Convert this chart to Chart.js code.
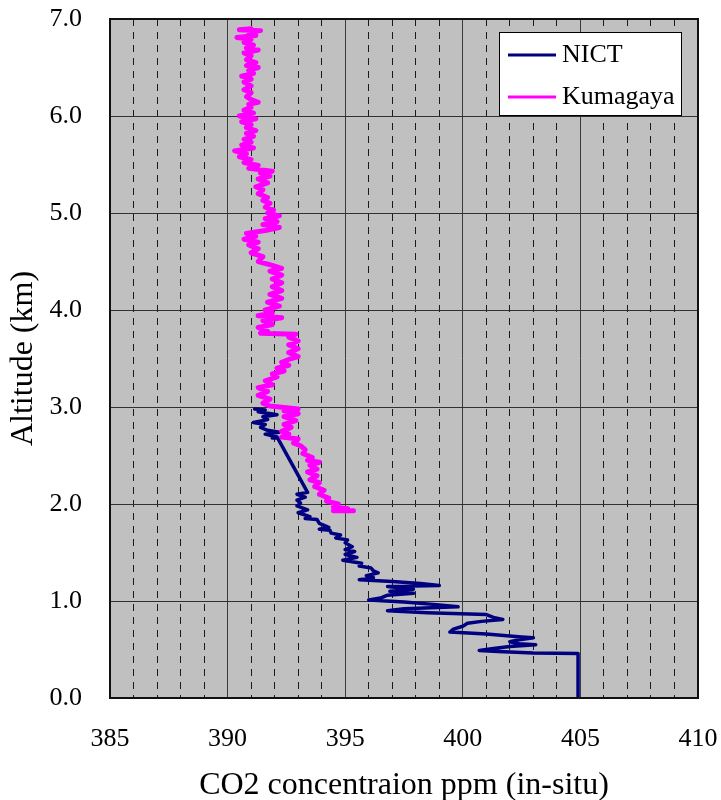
<!DOCTYPE html>
<html><head><meta charset="utf-8">
<script src="https://cdn.jsdelivr.net/npm/chart.js@4"></script>
<style>html,body{margin:0;padding:0;background:#fff;}#wrap{width:721px;height:800px;}</style>
</head><body><div id="wrap"><canvas id="c" width="721" height="800"></canvas></div>
<script>
const xLabelValues = [385, 390, 395, 400, 405, 410];
const yLabelValues = [0, 1, 2, 3, 4, 5, 6, 7];
const seriesNames = ['NICT', 'Kumagaya'];
const seriesColors = ['#000080', '#ff00ff'];

const nictAlt = [2.98,2.97,2.95,2.92,2.90,2.87,2.84,2.82,2.79,2.76,
  2.74,2.72,2.69,2.68,2.68,2.12,2.10,2.07,2.04,2.01,
  1.98,1.94,1.91,1.87,1.85,1.84,1.80,1.76,1.74,1.73,
  1.70,1.68,1.65,1.63,1.60,1.56,1.53,1.51,1.48,1.45,
  1.42,1.39,1.36,1.34,1.31,1.29,1.26,1.24,1.22,1.20,
  1.18,1.16,1.15,1.12,1.10,1.08,1.06,1.03,1.01,0.99,
  0.96,0.94,0.92,0.90,0.88,0.86,0.83,0.81,0.79,0.77,
  0.74,0.71,0.68,0.66,0.63,0.62,0.60,0.58,0.56,0.55,
  0.53,0.51,0.49,0.48,0.47,0.465,0.46,0.00];
const nictCO2 = [391.15,391.6,391.3,392.1,391.5,391.7,391.1,391.6,391.4,391.7,
  392.2,391.6,392.1,391.9,392.13,393.4,392.95,393.3,392.95,393.1,
  392.95,393.4,393.0,393.5,393.3,393.8,393.9,394.3,393.9,394.35,
  394.4,394.8,394.6,395.1,395.0,395.3,395.0,395.4,395.0,395.5,
  394.9,395.7,395.6,396.1,396.2,396.4,395.9,396.2,395.6,397.0,
  398.2,399.0,396.8,397.9,396.9,397.9,396.8,396.5,396.0,397.5,
  399.0,399.8,397.5,396.8,398.5,401.0,401.3,401.7,400.8,400.2,
  400.0,399.6,399.45,401.0,402.5,403.0,402.4,402.0,402.4,403.1,
  402.0,401.3,400.7,401.5,402.5,403.0,404.9,404.9];

const kumAlt = [6.90,6.89,6.88,6.86,6.83,6.81,6.79,6.76,6.73,6.70,
  6.68,6.65,6.62,6.58,6.55,6.52,6.50,6.47,6.44,6.41,
  6.38,6.35,6.31,6.27,6.24,6.20,6.17,6.14,6.12,6.09,
  6.06,6.03,6.00,5.97,5.94,5.91,5.88,5.85,5.82,5.79,
  5.76,5.73,5.70,5.67,5.64,5.61,5.58,5.55,5.52,5.49,
  5.46,5.43,5.41,5.38,5.35,5.31,5.27,5.24,5.20,5.16,
  5.13,5.10,5.06,5.03,5.00,4.97,4.94,4.91,4.88,4.85,
  4.82,4.79,4.76,4.73,4.70,4.67,4.63,4.59,4.55,4.50,
  4.46,4.43,4.40,4.36,4.32,4.28,4.24,4.20,4.16,4.12,
  4.08,4.04,4.00,3.97,3.94,3.92,3.89,3.85,3.82,3.78,
  3.76,3.75,3.72,3.68,3.64,3.60,3.56,3.52,3.49,3.46,
  3.43,3.40,3.37,3.34,3.31,3.27,3.23,3.20,3.16,3.12,
  3.08,3.04,3.01,2.98,2.96,2.93,2.90,2.86,2.82,2.79,
  2.75,2.72,2.69,2.67,2.63,2.60,2.56,2.52,2.48,2.45,
  2.43,2.40,2.36,2.33,2.29,2.25,2.22,2.18,2.14,2.10,
  2.06,2.03,2.00,1.97,1.95,1.93,1.93];
const kumCO2 = [391.0,390.5,391.4,390.9,391.2,390.4,391.0,390.7,391.1,390.8,
  391.3,390.7,391.0,390.8,391.2,390.8,391.3,390.9,391.1,390.6,
  391.0,390.7,391.0,390.7,391.0,390.8,391.0,391.3,390.9,391.0,
  390.7,391.1,390.5,391.2,390.6,391.0,390.8,391.2,390.8,391.1,
  390.7,391.0,390.6,391.1,390.3,390.8,390.5,391.0,390.7,391.3,
  390.9,391.9,391.4,391.8,391.3,391.7,391.2,391.5,391.3,391.7,
  391.5,391.8,391.6,391.95,391.7,392.2,391.6,392.1,391.5,392.2,
  391.6,390.8,391.2,390.7,391.3,390.9,391.3,391.0,391.5,391.3,
  391.9,392.3,391.8,392.3,391.9,392.3,391.9,392.3,391.8,392.3,
  391.7,392.2,391.6,391.9,391.3,392.3,391.5,391.9,391.3,391.7,
  391.4,392.9,392.6,393.0,392.6,393.0,392.6,393.0,392.6,392.3,
  392.6,392.1,392.4,391.9,392.1,391.6,391.9,391.3,391.7,391.3,
  391.8,391.5,391.8,393.0,392.4,393.0,392.4,392.9,392.4,392.7,
  392.3,392.6,392.3,393.0,392.8,393.1,393.3,393.2,393.6,393.4,
  393.9,393.5,393.8,393.4,393.8,393.5,393.9,393.7,394.1,393.9,
  394.3,394.2,394.7,394.5,395.1,394.5,395.35];

function pts(xs, ys) {
  const n = Math.min(xs.length, ys.length);
  const out = [];
  for (let i = 0; i < n; i++) out.push({x: xs[i], y: ys[i]});
  return out;
}

const FONT = "'Liberation Serif','Times New Roman',serif";

const plotBg = {
  id: 'plotBg',
  beforeDraw(chart) {
    const {ctx, chartArea: a} = chart;
    ctx.save();
    ctx.fillStyle = '#c0c0c0';
    ctx.fillRect(a.left, a.top, a.right - a.left, a.bottom - a.top);
    ctx.restore();
  },
  afterDatasetsDraw(chart) {
    const {ctx, chartArea: a} = chart;
    ctx.save();
    ctx.strokeStyle = '#111';
    ctx.lineWidth = 2;
    ctx.strokeRect(a.left, a.top, a.right - a.left, a.bottom - a.top);
    ctx.restore();
  },
  afterDraw(chart) {
    const {ctx, chartArea: a} = chart;
    const bx = a.right - 199, by = a.top + 13, bw = 182, bh = 83;
    ctx.save();
    ctx.fillStyle = '#fff';
    ctx.fillRect(bx, by, bw, bh);
    ctx.strokeStyle = '#000';
    ctx.lineWidth = 1;
    ctx.strokeRect(bx + 0.5, by + 0.5, bw, bh);
    ctx.font = "26px " + FONT;
    ctx.textBaseline = 'middle';
    ctx.textAlign = 'left';
    const rows = [by + 23, by + 65];
    chart.data.datasets.forEach((ds, i) => {
      const yy = rows[i];
      ctx.strokeStyle = ds.borderColor;
      ctx.lineWidth = 3;
      ctx.beginPath();
      ctx.moveTo(bx + 9, yy);
      ctx.lineTo(bx + 57, yy);
      ctx.stroke();
      ctx.fillStyle = '#000';
      ctx.fillText(ds.label, bx + 63, yy);
    });
    ctx.restore();
  }
};

new Chart(document.getElementById('c'), {
  type: 'scatter',
  data: {
    datasets: [
      {label: seriesNames[0], data: pts(nictCO2, nictAlt), borderColor: seriesColors[0], backgroundColor: seriesColors[0],
       showLine: true, pointRadius: 0, borderWidth: 3.5, borderJoinStyle: 'round', borderCapStyle: 'round', tension: 0, order: 2},
      {label: seriesNames[1], data: pts(kumCO2, kumAlt), borderColor: seriesColors[1], backgroundColor: seriesColors[1],
       showLine: true, pointRadius: 0, borderWidth: 5, borderJoinStyle: 'round', borderCapStyle: 'round', tension: 0, order: 1}
    ]
  },
  options: {
    responsive: false,
    animation: false,
    devicePixelRatio: 1,
    layout: {padding: {top: 19, right: 23, left: 0, bottom: 0}},
    plugins: {legend: {display: false}, tooltip: {enabled: false}, title: {display: false}},
    scales: {
      x: {
        type: 'linear', min: 385, max: 410,
        afterFit(s) { s.height = 102; s.paddingLeft = 0; s.paddingRight = 0; s.paddingTop = 0; s.paddingBottom = 0; },
        ticks: {
          stepSize: 1, autoSkip: false, maxRotation: 0, padding: 26, color: '#000',
          font: {family: FONT, size: 26},
          callback: v => xLabelValues.includes(v) ? String(v) : ''
        },
        grid: {
          drawTicks: false,
          color: ctx => (ctx.tick && ctx.tick.value % 5 === 0) ? '#3a3a3a' : '#1a1a1a',
          lineWidth: 1
        },
        border: {
          display: false,
          dash: ctx => (ctx.tick && ctx.tick.value % 5 !== 0) ? [7, 6] : []
        },
        title: {display: true, text: 'CO2 concentraion ppm (in-situ)', color: '#000',
          font: {family: FONT, size: 32, lineHeight: 0.875}, padding: 0}
      },
      y: {
        type: 'linear', min: 0, max: 7,
        afterFit(s) { s.width = 110; s.paddingLeft = 0; s.paddingRight = 0; s.paddingTop = 0; s.paddingBottom = 0; },
        ticks: {
          stepSize: 1, padding: 28, color: '#000',
          font: {family: FONT, size: 26},
          callback: v => yLabelValues.includes(v) ? v.toFixed(1) : ''
        },
        grid: {drawTicks: false, color: '#303030', lineWidth: 1},
        border: {display: false},
        title: {display: true, text: 'Altitude (km)', color: '#000',
          font: {family: FONT, size: 32, lineHeight: 1}, padding: {top: 8, bottom: 0}}
      }
    }
  },
  plugins: [plotBg]
});
</script>
</body></html>
